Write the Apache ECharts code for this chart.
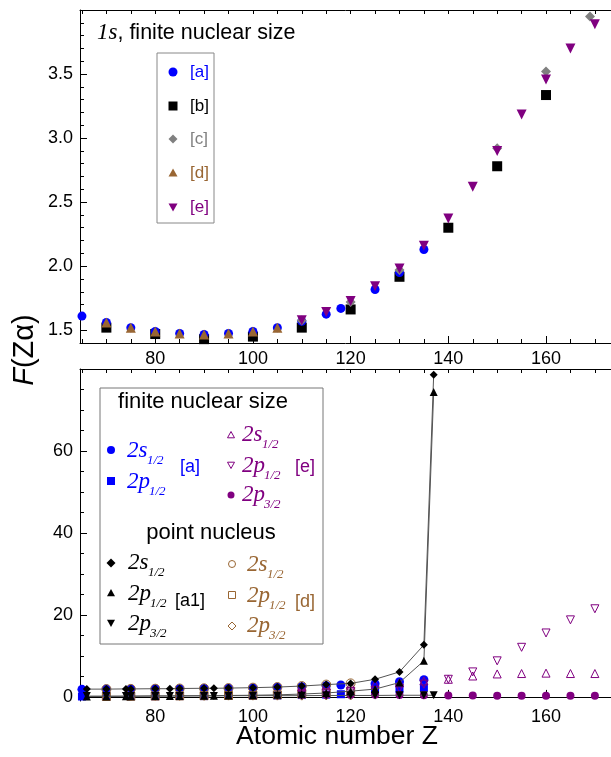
<!DOCTYPE html>
<html>
<head>
<meta charset="utf-8">
<script src="https://cdn.jsdelivr.net/npm/echarts@6/dist/echarts.min.js"></script>
<style>
html,body{margin:0;padding:0;background:#fff}
#chart{width:611px;height:757px}
</style>
</head>
<body>
<div id="chart"></div>
<script>
// ---- data : top panel (1s, finite nuclear size) ----
var zA1s = [65,70,75,80,85,90,95,100,105,110,115,118,125,130,135];
var fA1s = [1.61,1.56,1.52,1.49,1.475,1.467,1.475,1.49,1.52,1.57,1.625,1.67,1.818,1.95,2.13];
var zB1s = [70,80,90,100,110,120,130,140,150,160];
var fB1s = [1.52,1.47,1.43,1.45,1.52,1.662,1.917,2.30,2.78,3.336];
var zC1s = [110,120,130,150,160,169];
var fC1s = [1.575,1.72,1.97,2.92,3.52,3.95];
var zD1s = [70,75,80,85,90,95,100,105];
var fD1s = [1.56,1.52,1.49,1.475,1.467,1.475,1.49,1.52];
var zE1s = [110,115,120,125,130,135,140,145,150,155,160,165,170];
var fE1s = [1.578,1.643,1.727,1.844,1.982,2.16,2.373,2.62,2.90,3.185,3.458,3.70,3.888];

// ---- data : bottom panel (n=2 states) ----
// [a] finite nuclear size
var zA2 = [65,70,75,80,85,90,95,100,105,110,115,118,125,130,135];
var fA2s = [1.85,1.9,1.95,2.0,2.0,2.05,2.1,2.2,2.35,2.5,2.75,2.9,3.2,3.7,4.2];
var fA2p1 = [0.1,0.1,0.15,0.15,0.2,0.2,0.25,0.3,0.35,0.45,0.55,0.65,1.4,1.9,2.3];
// [e] finite nuclear size
var zE2 = [110,115,120,125,130,135,140,145,150,155,160,165,170];
var fE2s = [2.5,2.7,2.9,3.1,3.4,3.9,4.3,5.1,5.6,5.7,5.8,5.7,5.7];
var fE2p1 = [0.8,1.0,1.3,1.6,2.1,3.1,4.3,6.1,8.8,12.1,15.6,18.8,21.5];
var fE2p3 = [0.55,0.55,0.5,0.5,0.45,0.4,0.35,0.35,0.3,0.3,0.3,0.3,0.3];
// [a1] point nucleus
var zPt = [66,70,74,75,80,83,85,90,92,95,100,105,110,115,120,125,130,135,137];
var fPt2s = [1.9,1.9,1.95,1.95,2.0,2.0,2.05,2.1,2.1,2.15,2.25,2.4,2.65,3.0,3.3,4.3,6.1,12.7,78.6];
var fPt2p1 = [0.1,0.1,0.15,0.15,0.2,0.2,0.25,0.3,0.3,0.35,0.4,0.5,0.7,0.95,1.4,1.9,3.5,8.8,74.4];
var fPt2p3 = [0.2,0.2,0.2,0.2,0.25,0.25,0.25,0.25,0.25,0.3,0.3,0.3,0.3,0.35,0.35,0.35,0.4,0.4,0.4];
// [d] point nucleus
var zD2 = [70,75,80,85,90,95,100,105,110,115,120];
var fD2s = [1.9,1.95,2.0,2.05,2.1,2.15,2.25,2.4,2.65,3.0,3.3];
var fD2p1 = [0.1,0.15,0.2,0.25,0.3,0.35,0.4,0.5,0.7,0.95,1.4];
var fD2p3 = [0.2,0.2,0.25,0.25,0.25,0.3,0.3,0.3,0.3,0.35,0.35];

// ---- tick labels ----
var xLabels = [80,100,120,140,160];
var yTopLabels = [1.5,2.0,2.5,3.0,3.5];
var yBotLabels = [0,20,40,60];

var BLUE = '#0000ff', GRAY = '#808080', BROWN = '#996633', PURPLE = '#800080';
var SANS = '"Liberation Sans", Arial, sans-serif';
var SERIF = '"Liberation Serif", "Times New Roman", serif';

function zip(a, b) { return a.map(function(v, i){ return [v, b[i]]; }); }
function fmt(v) { return v.toFixed(1); }

var xMinor = [], xAll = [];
for (var t = 65; t <= 170; t += 5) { xAll.push(t); if (t % 20 !== 0) xMinor.push(t); }
var yTopMinor = [];
for (var k = 14; k <= 40; k++) { if (k % 5 !== 0) yTopMinor.push(k / 10); }
var yBotMinor = [];
for (var m = 5; m <= 80; m += 5) { if (m % 20 !== 0) yBotMinor.push(m); }

function xAxes(gi) {
  var base = {gridIndex: gi, type: 'value', min: 64.6, max: 173.3, splitLine: {show: false}};
  return [
    Object.assign({}, base, {
      position: 'bottom',
      axisLine: {show: true, lineStyle: {color: '#000', width: 1}},
      axisTick: {show: true, inside: true, length: 7, customValues: xLabels, lineStyle: {color: '#000'}},
      axisLabel: {show: true, customValues: xLabels, margin: 7, color: '#000', fontSize: 18, fontFamily: SANS}
    }),
    Object.assign({}, base, {
      position: 'bottom',
      axisLine: {show: false},
      axisTick: {show: true, inside: true, length: 4, customValues: xMinor, lineStyle: {color: '#000'}},
      axisLabel: {show: false}
    }),
    Object.assign({}, base, {
      position: 'top',
      axisLine: {show: true, lineStyle: {color: '#000', width: 1}},
      axisTick: {show: true, inside: true, length: 4, customValues: xAll, lineStyle: {color: '#000'}},
      axisLabel: {show: false}
    })
  ];
}

function yAxes(gi, min, max, labels, minor, f) {
  var base = {gridIndex: gi, type: 'value', min: min, max: max, position: 'left', splitLine: {show: false}};
  return [
    Object.assign({}, base, {
      axisLine: {show: true, lineStyle: {color: '#000', width: 1}},
      axisTick: {show: true, inside: true, length: 7, customValues: labels, lineStyle: {color: '#000'}},
      axisLabel: {show: true, customValues: labels, margin: 7, color: '#000', fontSize: 18, fontFamily: SANS, formatter: f}
    }),
    Object.assign({}, base, {
      axisLine: {show: false},
      axisTick: {show: true, inside: true, length: 4, customValues: minor, lineStyle: {color: '#000'}},
      axisLabel: {show: false}
    })
  ];
}

function sc(name, xi, yi, data, symbol, size, color, open, rot) {
  return {
    type: 'scatter', name: name, xAxisIndex: xi, yAxisIndex: yi, data: data,
    symbol: symbol, symbolSize: size, symbolRotate: rot || 0,
    itemStyle: open ? {color: 'rgba(0,0,0,0)', borderColor: color, borderWidth: 1, opacity: 1}
                    : {color: color, opacity: 1},
    emphasis: {disabled: true}
  };
}
function ln(name, data, symbol, size, rot) {
  return {
    type: 'line', name: name, xAxisIndex: 3, yAxisIndex: 2, data: data,
    symbol: symbol, symbolSize: size, symbolRotate: rot || 0, showSymbol: true,
    lineStyle: {color: '#555', width: 1}, itemStyle: {color: '#000', opacity: 1},
    emphasis: {disabled: true}
  };
}

// ---- legend helpers (graphic) ----
function mark(shape, x, y, s, color, open) {
  var st = open ? {fill: 'none', stroke: color, lineWidth: 1} : {fill: color};
  var h = s / 2, el;
  if (shape === 'circle') el = {type: 'circle', shape: {cx: x, cy: y, r: h}};
  else if (shape === 'rect') el = {type: 'rect', shape: {x: x - h, y: y - h, width: s, height: s}};
  else if (shape === 'diamond') el = {type: 'polygon', shape: {points: [[x, y - h], [x + h, y], [x, y + h], [x - h, y]]}};
  else if (shape === 'up') el = {type: 'polygon', shape: {points: [[x, y - h], [x + h, y + h * 0.8], [x - h, y + h * 0.8]]}};
  else el = {type: 'polygon', shape: {points: [[x, y + h], [x + h, y - h * 0.8], [x - h, y - h * 0.8]]}};
  el.style = st; el.z = 100;
  return el;
}
function txt(x, y, s, font, color, align) {
  return {type: 'text', x: x, y: y, z: 100,
    style: {text: s, font: font, fill: color, textAlign: align || 'left', textVerticalAlign: 'middle'}};
}
function state(x, y, main, sub, color) {
  var w = main === '2s' ? 20 : 22;
  return [
    txt(x, y, main, 'italic 23px ' + SERIF, color),
    txt(x + w, y + 10, sub, 'italic 13px ' + SERIF, color)
  ];
}

var g = [];
// top panel title and legend
g.push({type: 'text', x: 97, y: 33, z: 100, style: {
  text: '{i|1s}{n|, finite nuclear size}', textVerticalAlign: 'middle',
  rich: {i: {font: 'italic 23px ' + SERIF, fill: '#000'}, n: {font: '21.5px ' + SANS, fill: '#000'}}
}});
g.push({type: 'rect', shape: {x: 157, y: 53, width: 57, height: 170}, style: {fill: '#fff', stroke: '#888', lineWidth: 1}, z: 90});
var topLeg = [['circle', BLUE, '[a]', 72, 9], ['rect', '#000', '[b]', 106, 9], ['diamond', GRAY, '[c]', 139, 9],
              ['up', BROWN, '[d]', 173, 9], ['down', PURPLE, '[e]', 207, 9]];
topLeg.forEach(function(e){
  g.push(mark(e[0], 173, e[3], e[4], e[1], false));
  g.push(txt(190, e[3], e[2], '17px ' + SANS, e[1]));
});

// bottom legend
g.push({type: 'rect', shape: {x: 100, y: 388, width: 223, height: 256}, style: {fill: '#fff', stroke: '#777', lineWidth: 1}, z: 90});
g.push(txt(203, 402, 'finite nuclear size', '22px ' + SANS, '#000', 'center'));
g.push(mark('circle', 111, 450, 8, BLUE, false));
g = g.concat(state(127, 451, '2s', '1/2', BLUE));
g.push(mark('rect', 111, 481, 8, BLUE, false));
g = g.concat(state(127, 482, '2p', '1/2', BLUE));
g.push(txt(180, 467, '[a]', '18px ' + SANS, BLUE));
g.push(mark('up', 231, 435, 7, PURPLE, true));
g = g.concat(state(242, 435, '2s', '1/2', PURPLE));
g.push(mark('down', 231, 465, 7, PURPLE, true));
g = g.concat(state(242, 466, '2p', '1/2', PURPLE));
g.push(mark('circle', 231, 495, 7, PURPLE, false));
g = g.concat(state(242, 495, '2p', '3/2', PURPLE));
g.push(txt(295, 467, '[e]', '18px ' + SANS, PURPLE));

g.push(txt(211, 533, 'point nucleus', '22px ' + SANS, '#000', 'center'));
g.push(mark('diamond', 111, 563, 9, '#000', false));
g = g.concat(state(128, 563, '2s', '1/2', '#000'));
g.push(mark('up', 111, 593, 8, '#000', false));
g = g.concat(state(128, 594, '2p', '1/2', '#000'));
g.push(txt(175, 601, '[a1]', '18px ' + SANS, '#000'));
g.push(mark('down', 111, 623, 8, '#000', false));
g = g.concat(state(128, 624, '2p', '3/2', '#000'));
g.push(mark('circle', 232, 564, 7, BROWN, true));
g = g.concat(state(247, 565, '2s', '1/2', BROWN));
g.push(mark('rect', 232, 595, 7, BROWN, true));
g = g.concat(state(247, 596, '2p', '1/2', BROWN));
g.push(mark('diamond', 232, 626, 8, BROWN, true));
g = g.concat(state(247, 626, '2p', '3/2', BROWN));
g.push(txt(295, 602, '[d]', '18px ' + SANS, BROWN));

// axis names
g.push(txt(337, 737, 'Atomic number Z', '26.5px ' + SANS, '#000', 'center'));
g.push({type: 'text', x: 25, y: 350, rotation: Math.PI / 2, z: 100, style: {
  text: '{f|F}{n|(Z\u03b1)}', textAlign: 'center', textVerticalAlign: 'middle',
  rich: {f: {font: 'italic 29px ' + SANS, fill: '#000'}, n: {font: '29px ' + SANS, fill: '#000'}}
}});

var chart = echarts.init(document.getElementById('chart'), null, {renderer: 'canvas'});
chart.setOption({
  animation: false,
  backgroundColor: '#fff',
  grid: [
    {left: 80, top: 10, width: 531, height: 333},
    {left: 80, top: 369, width: 531, height: 332}
  ],
  xAxis: xAxes(0).concat(xAxes(1)),
  yAxis: yAxes(0, 1.4, 4.0, yTopLabels, yTopMinor, fmt).concat(yAxes(1, -1, 80, yBotLabels, yBotMinor, function(v){ return String(v); })),
  series: [
    // top panel
    sc('[b]', 0, 0, zip(zB1s, fB1s), 'rect', 10, '#000'),
    sc('[a]', 0, 0, zip(zA1s, fA1s), 'circle', 9, BLUE),
    sc('[c]', 0, 0, zip(zC1s, fC1s), 'diamond', 10, GRAY),
    sc('[d]', 0, 0, zip(zD1s, fD1s), 'triangle', 10, BROWN),
    sc('[e]', 0, 0, zip(zE1s, fE1s), 'triangle', 10, PURPLE, false, 180),
    // bottom panel
    sc('[a] 2s1/2', 3, 2, zip(zA2, fA2s), 'circle', 9, BLUE),
    sc('[a] 2p1/2', 3, 2, zip(zA2, fA2p1), 'rect', 8, BLUE),
    sc('[d] 2s1/2', 3, 2, zip(zD2, fD2s), 'circle', 9, BROWN, true),
    sc('[d] 2p1/2', 3, 2, zip(zD2, fD2p1), 'rect', 8, BROWN, true),
    sc('[d] 2p3/2', 3, 2, zip(zD2, fD2p3), 'diamond', 9, BROWN, true),
    sc('[e] 2p3/2', 3, 2, zip(zE2, fE2p3), 'circle', 8, PURPLE),
    sc('[e] 2s1/2', 3, 2, zip(zE2, fE2s), 'triangle', 8, PURPLE, true),
    sc('[e] 2p1/2', 3, 2, zip(zE2, fE2p1), 'triangle', 8, PURPLE, true, 180),
    ln('[a1] 2p3/2', zip(zPt, fPt2p3), 'triangle', 8, 180),
    ln('[a1] 2p1/2', zip(zPt, fPt2p1), 'triangle', 8),
    ln('[a1] 2s1/2', zip(zPt, fPt2s), 'diamond', 8)
  ],
  graphic: {elements: g}
});
</script>
</body>
</html>
